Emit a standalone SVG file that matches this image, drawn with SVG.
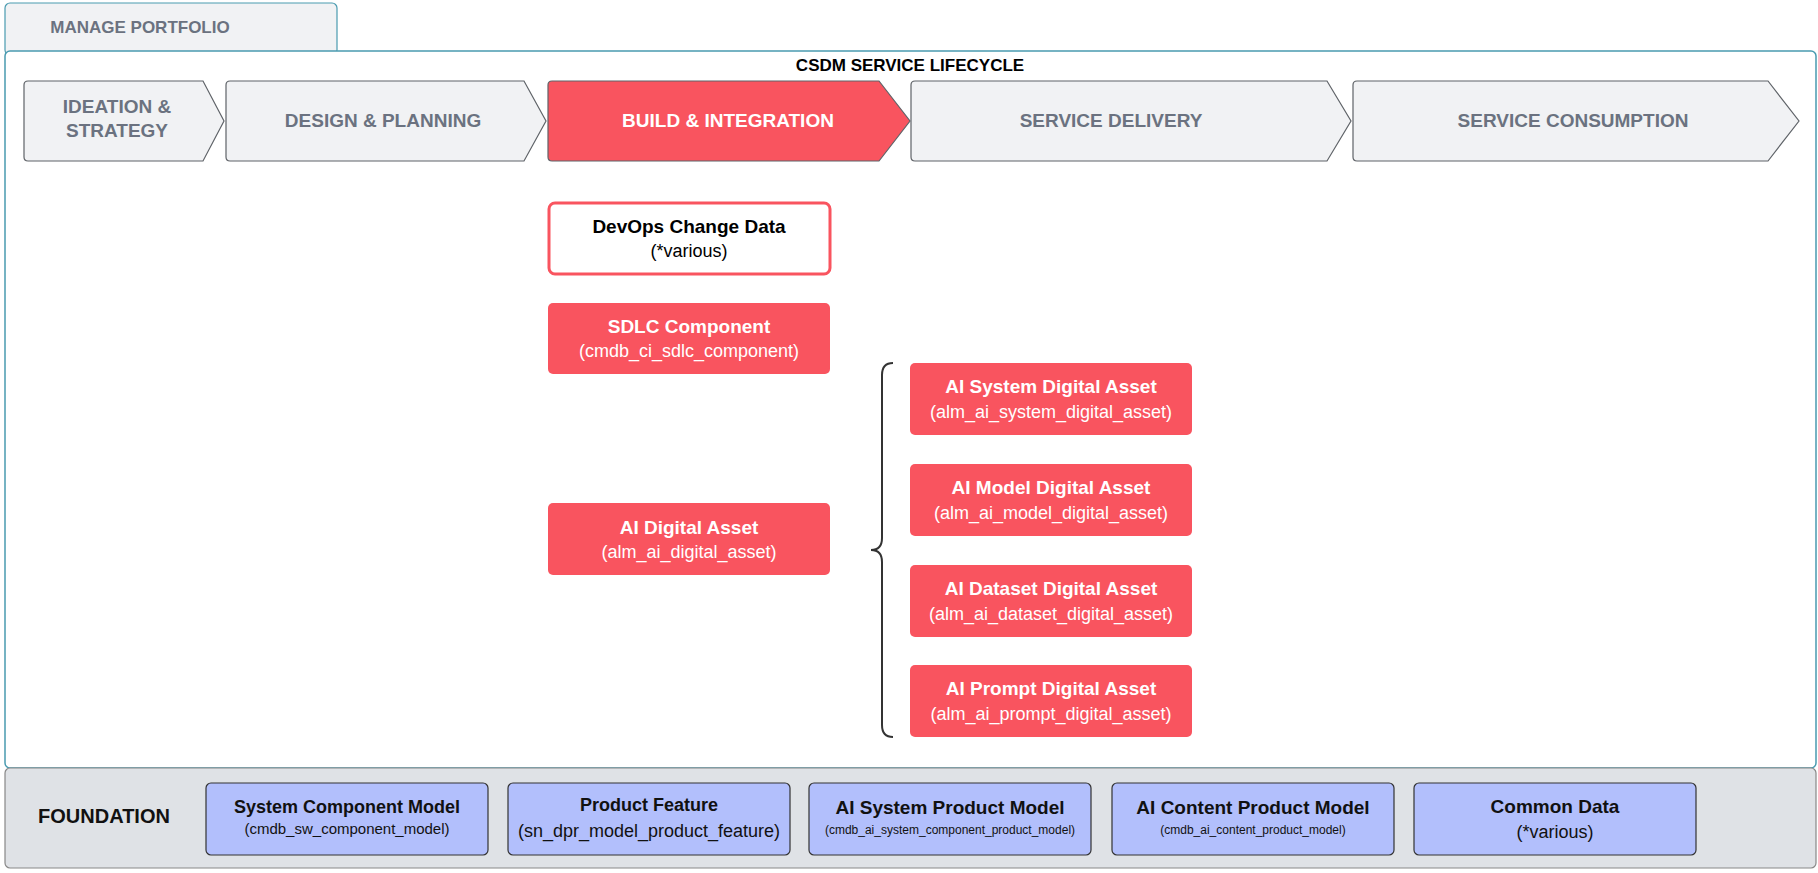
<svg xmlns="http://www.w3.org/2000/svg" width="1818" height="873" viewBox="0 0 1818 873">
<style>
text{font-family:"Liberation Sans",Arial,sans-serif;text-anchor:middle}
.chev{fill:#f1f2f4;stroke:#5f6368;stroke-width:1.2}
.chevA{fill:#f9545f;stroke:#5f6368;stroke-width:1.2}
.ct{font-size:19px;font-weight:bold;fill:#6b7280}
.red{fill:#f9545f;stroke:none}
.wt{fill:#fff;font-size:19px;font-weight:bold}
.ws{fill:#fff;font-size:18px}
.fb{fill:#b2bffc;stroke:#333;stroke-width:1.2}
.ft{font-size:18px;font-weight:bold;fill:#111}
.fs{font-size:15px;fill:#111}
</style>
<g id="manage-portfolio"><rect x="5" y="3" width="332" height="52" rx="5" fill="#f1f2f4" stroke="#4a9bb0" stroke-width="1.2"/><text x="140" y="33" font-size="17" font-weight="bold" fill="#6b7280">MANAGE PORTFOLIO</text></g>
<g id="lifecycle"><rect x="5" y="51" width="1811" height="717" rx="5" fill="#fff" stroke="#4a9bb0" stroke-width="1.5"/><text x="910" y="71" font-size="17" font-weight="bold" fill="#000">CSDM SERVICE LIFECYCLE</text></g>
<g id="foundation"><rect x="5" y="768" width="1811" height="100" rx="5" fill="#dfe2e6" stroke="#888" stroke-width="1.2"/><text x="104" y="823" font-size="20" font-weight="bold" fill="#111">FOUNDATION</text></g>
<g id="ideation"><path class="chev" d="M28 81H203L224 121L203 161H28Q24 161 24 157V85Q24 81 28 81Z"/><text class="ct" x="117" y="113">IDEATION &amp;</text><text class="ct" x="117" y="137">STRATEGY</text></g>
<g id="design"><path class="chev" d="M230 81H524L546 121L524 161H230Q226 161 226 157V85Q226 81 230 81Z"/><text class="ct" x="383" y="127">DESIGN &amp; PLANNING</text></g>
<g id="build"><path class="chevA" d="M552 81H879L910 121L879 161H552Q548 161 548 157V85Q548 81 552 81Z"/><text class="ct" x="728" y="127" fill="#fff" style="fill:#fff">BUILD &amp; INTEGRATION</text></g>
<g id="delivery"><path class="chev" d="M915 81H1327L1351 121L1327 161H915Q911 161 911 157V85Q911 81 915 81Z"/><text class="ct" x="1111" y="127">SERVICE DELIVERY</text></g>
<g id="consumption"><path class="chev" d="M1357 81H1768L1799 121L1768 161H1357Q1353 161 1353 157V85Q1353 81 1357 81Z"/><text class="ct" x="1573" y="127">SERVICE CONSUMPTION</text></g>
<g id="devops"><rect x="549" y="203" width="281" height="71" rx="6" fill="#fff" stroke="#f9545f" stroke-width="3"/><text x="689" y="233" font-size="19" font-weight="bold" fill="#000">DevOps Change Data</text><text x="689" y="257" font-size="18" fill="#000">(*various)</text></g>
<g id="sdlc"><rect class="red" x="548" y="303" width="282" height="71" rx="5"/><text class="wt" x="689" y="333">SDLC Component</text><text class="ws" x="689" y="357">(cmdb_ci_sdlc_component)</text></g>
<g id="ai-digital"><rect class="red" x="548" y="503" width="282" height="72" rx="5"/><text class="wt" x="689" y="534">AI Digital Asset</text><text class="ws" x="689" y="558">(alm_ai_digital_asset)</text></g>
<g id="ai-system"><rect class="red" x="910" y="363" width="282" height="72" rx="5"/><text class="wt" x="1051" y="393">AI System Digital Asset</text><text class="ws" x="1051" y="418">(alm_ai_system_digital_asset)</text></g>
<g id="ai-model"><rect class="red" x="910" y="464" width="282" height="72" rx="5"/><text class="wt" x="1051" y="494">AI Model Digital Asset</text><text class="ws" x="1051" y="519">(alm_ai_model_digital_asset)</text></g>
<g id="ai-dataset"><rect class="red" x="910" y="565" width="282" height="72" rx="5"/><text class="wt" x="1051" y="595">AI Dataset Digital Asset</text><text class="ws" x="1051" y="620">(alm_ai_dataset_digital_asset)</text></g>
<g id="ai-prompt"><rect class="red" x="910" y="665" width="282" height="72" rx="5"/><text class="wt" x="1051" y="695">AI Prompt Digital Asset</text><text class="ws" x="1051" y="720">(alm_ai_prompt_digital_asset)</text></g>
<g id="connectors"><path d="M893 363Q882 363 882 375V538Q882 550 871 550Q882 550 882 562V725Q882 737 893 737" fill="none" stroke="#333" stroke-width="2"/></g>
<g id="f1"><rect class="fb" x="206" y="783" width="282" height="72" rx="5"/><text class="ft" x="347" y="813">System Component Model</text><text class="fs" x="347" y="834">(cmdb_sw_component_model)</text></g>
<g id="f2"><rect class="fb" x="508" y="783" width="282" height="72" rx="5"/><text class="ft" x="649" y="811" font-size="19">Product Feature</text><text class="ws" x="649" y="837" style="fill:#111">(sn_dpr_model_product_feature)</text></g>
<g id="f3"><rect class="fb" x="809" y="783" width="282" height="72" rx="5"/><text class="ft" x="950" y="814" style="font-size:19px">AI System Product Model</text><text x="950" y="834" font-size="12" fill="#111">(cmdb_ai_system_component_product_model)</text></g>
<g id="f4"><rect class="fb" x="1112" y="783" width="282" height="72" rx="5"/><text class="ft" x="1253" y="814" style="font-size:19px">AI Content Product Model</text><text x="1253" y="834" font-size="12" fill="#111">(cmdb_ai_content_product_model)</text></g>
<g id="f5"><rect class="fb" x="1414" y="783" width="282" height="72" rx="5"/><text class="ft" x="1555" y="813" style="font-size:19px">Common Data</text><text class="ws" x="1555" y="838" style="fill:#111">(*various)</text></g>
</svg>
